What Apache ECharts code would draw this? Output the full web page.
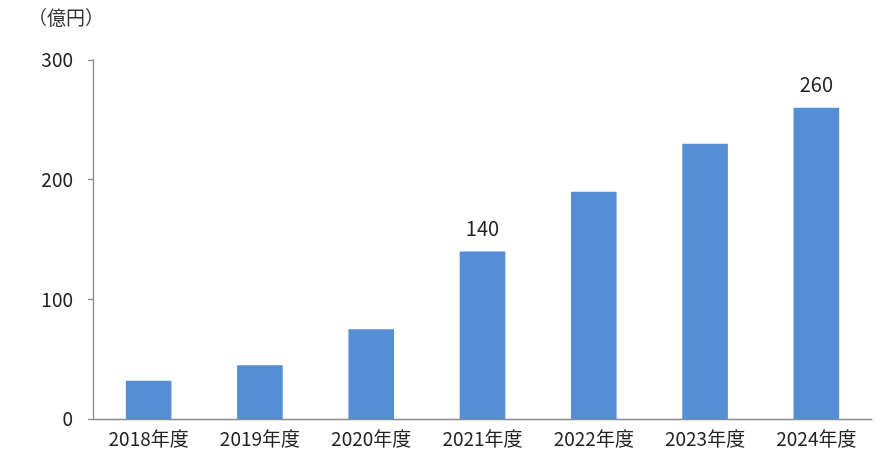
<!DOCTYPE html>
<html><head><meta charset="utf-8">
<script src="https://cdn.jsdelivr.net/npm/echarts@6/dist/echarts.min.js"></script>
<style>html,body{margin:0;padding:0;background:#fff}#c{width:884px;height:456px}</style>
</head><body><div id="c"></div>
<script>
const categories = ['2018年度','2019年度','2020年度','2021年度','2022年度','2023年度','2024年度'];
const values = [32, 45, 75, 140, 190, 230, 260];
const labeledIndices = [3, 6];
const yTicks = { min: 0, max: 300, interval: 100 };
const unitLabel = '（億円）';

const font = '"Noto Sans CJK JP", "Noto Sans", sans-serif';
const chart = echarts.init(document.getElementById('c'), null, {renderer: 'canvas'});
chart.setOption({
  animation: false,
  backgroundColor: '#fff',
  grid: { left: 93, right: 12, top: 60, bottom: 37, containLabel: false },
  graphic: [{ type: 'text', left: 28, top: 8, style: { text: unitLabel, font: '19px ' + font, fill: '#333' } }],
  xAxis: {
    type: 'category', data: categories,
    axisLine: { lineStyle: { color: '#8c8c8c', width: 1.3 } },
    axisTick: { show: false },
    axisLabel: { color: '#222', fontSize: 19, fontFamily: font, margin: 10 }
  },
  yAxis: {
    type: 'value', min: yTicks.min, max: yTicks.max, interval: yTicks.interval,
    axisLine: { show: true, lineStyle: { color: '#8c8c8c', width: 1.3 } },
    axisTick: { show: true, length: 5, lineStyle: { color: '#8c8c8c', width: 1.3 } },
    splitLine: { show: false },
    axisLabel: { color: '#222', fontSize: 19, fontFamily: font, margin: 20 }
  },
  series: [{
    type: 'bar', barWidth: '41%',
    itemStyle: { color: '#558ed5' },
    data: values.map((v, i) => labeledIndices.includes(i)
      ? { value: v, label: { show: true, position: 'top', distance: 13, color: '#222', fontSize: 20, fontFamily: font } }
      : v)
  }]
});
</script></body></html>
